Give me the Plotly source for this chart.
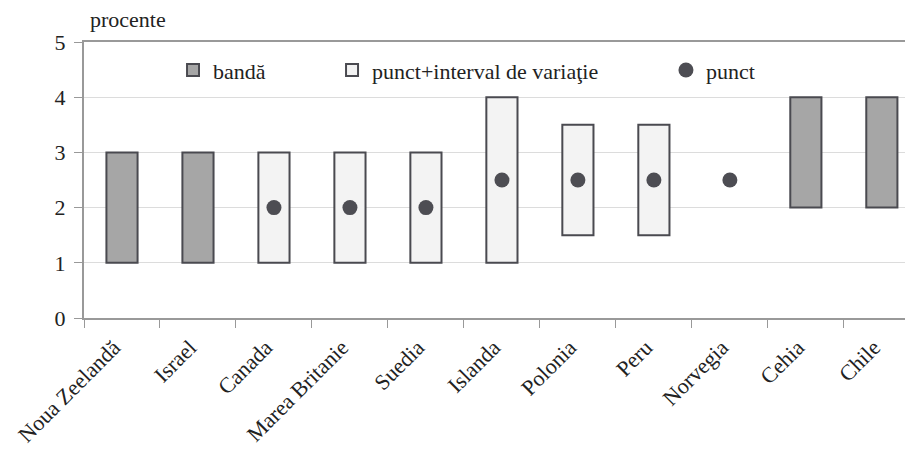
import plotly.graph_objects as go

countries = ["Noua Zeelandă", "Israel", "Canada", "Marea Britanie", "Suedia",
             "Islanda", "Polonia", "Peru", "Norvegia", "Cehia", "Chile"]

band_countries = ["Noua Zeelandă", "Israel", "Cehia", "Chile"]
band_low = [1, 1, 2, 2]
band_high = [3, 3, 4, 4]

range_countries = ["Canada", "Marea Britanie", "Suedia", "Islanda", "Polonia", "Peru"]
range_low = [1, 1, 1, 1, 1.5, 1.5]
range_high = [3, 3, 3, 4, 3.5, 3.5]

point_countries = ["Canada", "Marea Britanie", "Suedia", "Islanda", "Polonia", "Peru", "Norvegia"]
point_values = [2, 2, 2, 2.5, 2.5, 2.5, 2.5]

y_ticks = [0, 1, 2, 3, 4, 5]

FONT = "Liberation Serif"
TXT = "#222222"
EDGE = "#4a4a50"

fig = go.Figure()
fig.add_trace(go.Bar(
    x=band_countries, y=[h - l for l, h in zip(band_low, band_high)], base=band_low,
    name="bandă", width=0.41,
    marker=dict(color="#a6a6a6", line=dict(color=EDGE, width=2)),
    legend="legend"))
fig.add_trace(go.Bar(
    x=range_countries, y=[h - l for l, h in zip(range_low, range_high)], base=range_low,
    name="punct+interval de variaţie", width=0.41,
    marker=dict(color="#f3f3f3", line=dict(color=EDGE, width=2)),
    legend="legend2"))
fig.add_trace(go.Scatter(
    x=point_countries, y=point_values, mode="markers", name="punct",
    marker=dict(color="#4d4d53", size=15, symbol="circle"),
    legend="legend3"))

leg_common = dict(orientation="h", yanchor="middle", y=0.898, xanchor="left",
                  bgcolor="rgba(0,0,0,0)", font=dict(family=FONT, size=22, color=TXT))

fig.update_layout(
    width=905, height=442,
    margin=dict(l=76, r=0, t=34, b=132, autoexpand=False),
    paper_bgcolor="white", plot_bgcolor="white",
    barmode="overlay",
    showlegend=True,
    legend=dict(x=0.1074, **leg_common),
    legend2=dict(x=0.2992, **leg_common),
    legend3=dict(x=0.702, **leg_common),
    xaxis=dict(
        categoryorder="array", categoryarray=countries,
        range=[-0.5, 10.41], automargin=False,
        tickson="boundaries", ticks="outside", ticklen=8, tickcolor="#999",
        tickangle=-45, tickfont=dict(family=FONT, size=22, color=TXT),
        ticklabelshift=-8, ticklabelstandoff=6,
        showgrid=False, showline=True, linecolor="#999", linewidth=2,
        mirror=True, zeroline=False),
    yaxis=dict(
        range=[0, 5], tickvals=y_ticks, automargin=False,
        ticks="outside", ticklen=8, tickcolor="#999", ticklabelstandoff=4,
        tickfont=dict(family=FONT, size=22, color=TXT),
        showgrid=True, gridcolor="#dcdcdc", gridwidth=1,
        showline=True, linecolor="#999", linewidth=2,
        zeroline=False),
    annotations=[dict(text="procente", xref="paper", yref="paper",
                      x=0.005, y=1.0, xanchor="left", yanchor="bottom", yshift=8,
                      showarrow=False, font=dict(family=FONT, size=22, color=TXT))],
)

fig.write_html("out.html")
